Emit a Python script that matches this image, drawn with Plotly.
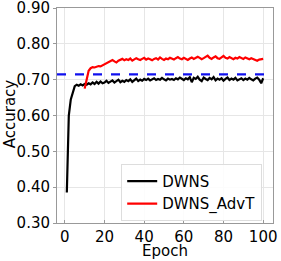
import plotly.graph_objects as go

epochs_dwns = list(range(1, 101))
acc_dwns = [0.385, 0.600, 0.645, 0.665, 0.682, 0.686, 0.683, 0.687, 0.684, 0.688,
            0.686, 0.690, 0.687, 0.692, 0.688, 0.694, 0.689, 0.695, 0.690, 0.692,
            0.697, 0.691, 0.694, 0.698, 0.692, 0.695, 0.700, 0.693, 0.697, 0.694,
            0.699, 0.696, 0.701, 0.694, 0.698, 0.703, 0.696, 0.700, 0.697, 0.702,
            0.699, 0.703, 0.698, 0.701, 0.704, 0.699, 0.702, 0.700, 0.705, 0.701,
            0.698, 0.703, 0.700, 0.702, 0.699, 0.704, 0.701, 0.706, 0.702, 0.699,
            0.704, 0.701, 0.707, 0.693, 0.705, 0.702, 0.708, 0.700, 0.696, 0.706,
            0.702, 0.699, 0.705, 0.701, 0.707, 0.698, 0.703, 0.700, 0.704, 0.697,
            0.702, 0.706, 0.699, 0.703, 0.700, 0.705, 0.698, 0.702, 0.704, 0.699,
            0.703, 0.700, 0.705, 0.701, 0.698, 0.703, 0.706, 0.700, 0.690, 0.704]

epochs_advt = list(range(10, 101))
acc_advt = [0.675, 0.700, 0.725, 0.732, 0.735, 0.734, 0.736, 0.738, 0.737, 0.740,
            0.742, 0.745, 0.748, 0.752, 0.755, 0.751, 0.748, 0.753, 0.756, 0.758,
            0.754, 0.757, 0.755, 0.759, 0.753, 0.756, 0.760, 0.757, 0.755, 0.758,
            0.761, 0.756, 0.759, 0.757, 0.754, 0.758, 0.760, 0.756, 0.762, 0.758,
            0.755, 0.759, 0.757, 0.761, 0.758, 0.756, 0.760, 0.763, 0.759, 0.757,
            0.761, 0.758, 0.755, 0.759, 0.762, 0.758, 0.760, 0.764, 0.761, 0.757,
            0.760, 0.763, 0.767, 0.761, 0.758, 0.762, 0.765, 0.760, 0.758, 0.762,
            0.766, 0.761, 0.759, 0.763, 0.760, 0.757, 0.761, 0.759, 0.763, 0.760,
            0.758, 0.762, 0.759, 0.757, 0.760, 0.758, 0.755, 0.753, 0.756, 0.757,
            0.758]

baseline = 0.715

x_ticks = [0, 20, 40, 60, 80, 100]
y_ticks = [0.30, 0.40, 0.50, 0.60, 0.70, 0.80, 0.90]

font_family = "DejaVu Sans"

fig = go.Figure()
fig.add_trace(go.Scatter(x=epochs_dwns, y=acc_dwns, mode="lines", name="DWNS",
                         line=dict(color="black", width=2.2)))
fig.add_trace(go.Scatter(x=epochs_advt, y=acc_advt, mode="lines", name="DWNS_AdvT",
                         line=dict(color="red", width=2.2)))
fig.add_shape(type="line", xref="paper", yref="y", x0=0, x1=1, y0=baseline, y1=baseline,
              line=dict(color="#1010ee", width=2.2, dash="dash"), layer="above")

fig.add_annotation(text="Epoch", xref="paper", yref="paper", x=0.5, y=-0.132,
                   xanchor="center", yanchor="middle", showarrow=False,
                   font=dict(size=15, family=font_family, color="black"))
fig.add_annotation(text="Accuracy", xref="paper", yref="paper", x=-0.218, y=0.51,
                   xanchor="center", yanchor="middle", showarrow=False, textangle=-90,
                   font=dict(size=15, family=font_family, color="black"))

fig.update_layout(
    width=281, height=261,
    margin=dict(l=57, r=8, t=8, b=38, autoexpand=False),
    paper_bgcolor="white", plot_bgcolor="white",
    font=dict(family=font_family, size=15, color="black"),
    showlegend=True,
    legend=dict(x=0.95, y=0.01, xanchor="right", yanchor="bottom",
                bgcolor="rgba(255,255,255,0.85)", bordercolor="#dddddd", borderwidth=1,
                font=dict(size=15), itemwidth=30),
)
fig.update_xaxes(
    range=[-3.95, 104.95], tickvals=x_ticks, ticktext=[str(v) for v in x_ticks],
    showgrid=True, gridcolor="#e6e6e6", gridwidth=1,
    showline=True, linecolor="#999999", linewidth=1, mirror=True,
    ticks="inside", ticklen=3, tickcolor="#999999",
    ticklabeloverflow="allow",
    zeroline=False, automargin=False,
    tickfont=dict(size=15),
)
fig.update_yaxes(
    range=[0.30, 0.90], tickvals=y_ticks, ticktext=[f"{v:.2f}" for v in y_ticks],
    showgrid=True, gridcolor="#e6e6e6", gridwidth=1,
    showline=True, linecolor="#999999", linewidth=1, mirror=True,
    ticks="outside", ticklen=3, tickcolor="#999999",
    ticklabeloverflow="allow",
    zeroline=False, automargin=False,
    tickfont=dict(size=15),
)

fig.write_html("out.html", config={"displayModeBar": False},
               post_script="document.body.style.margin='0';document.body.style.overflow='hidden';")
